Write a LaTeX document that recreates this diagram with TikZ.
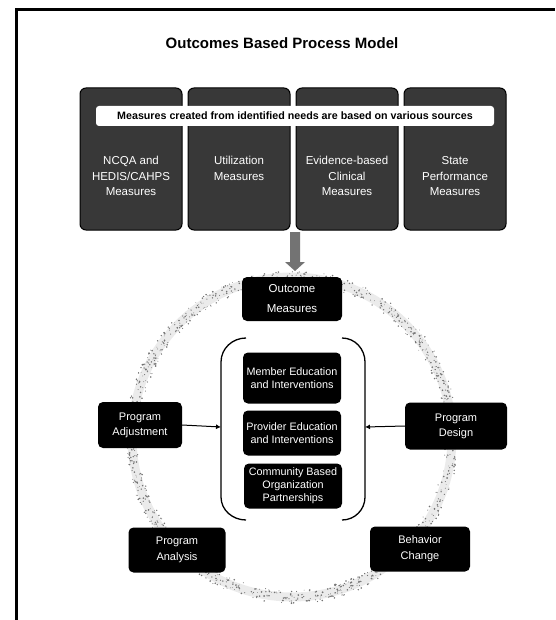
\documentclass[tikz,border=0pt]{standalone}
\usepackage{fontspec}
\setmainfont{Liberation Sans}
\usetikzlibrary{arrows.meta}
\begin{document}
\begin{tikzpicture}[x=1pt,y=-1pt,
  srcbox/.style={fill=black!78, draw=black, line width=1pt, rounded corners=6pt,
    minimum width=102pt, minimum height=142pt, inner sep=0pt},
  srctext/.style={text=white, font=\fontsize{11.5}{15.5}\selectfont, align=center, anchor=north},
  stagebox/.style={fill=black, rounded corners=5pt, inner sep=0pt, text=white, align=center,
    font=\fontsize{11}{15}\selectfont},
  innerbox/.style={fill=black, rounded corners=5pt, inner sep=0pt, text=white, align=center,
    minimum width=98pt, font=\fontsize{10.8}{12.8}\selectfont},
  speck/.style={fill=black!55},
  feed/.style={draw=black, line width=1pt, -{Latex[length=5pt,width=5pt]}},
  bracket/.style={draw=black, line width=1.3pt}
]
\useasboundingbox (0,0) rectangle (555,620);

% frame
\draw[line width=3pt] (16,620) -- (16,10) -- (555,10);

% title
\node[font=\bfseries\fontsize{15}{18}\selectfont, anchor=base] (title) at (282,49) {Outcomes Based Process Model};

% process cycle ring: a faint band strewn with grey specks
\draw[draw=black!8, line width=9pt] (292,437) circle[radius=160];
\pgfmathsetseed{4217}
\foreach \i in {1,...,1100}{
  \pgfmathsetmacro{\ang}{360*rnd}
  \pgfmathsetmacro{\rad}{160+13*(rnd-0.5)}
  \pgfmathsetmacro{\sz}{0.35+0.6*rnd}
  \fill[speck, shift={(292,437)}] (\ang:\rad) circle[radius=\sz];
}

% source measure boxes
\node[srcbox] (s1) at (131,159) {};
\node[srcbox] (s2) at (239,159) {};
\node[srcbox] (s3) at (347,159) {};
\node[srcbox] (s4) at (455,159) {};
\node[srctext] (t1) at (131,153) {NCQA and\\HEDIS/CAHPS\\Measures};
\node[srctext] (t2) at (239,153) {Utilization\\Measures};
\node[srctext] (t3) at (347,153) {Evidence-based\\Clinical\\Measures};
\node[srctext] (t4) at (455,153) {State\\Performance\\Measures};

% banner across the source boxes
\node[fill=white, rounded corners=3pt, minimum width=398pt, minimum height=20pt, inner sep=0pt,
  font=\bfseries\fontsize{10.7}{12}\selectfont] (banner) at (295,116)
  {Measures created from identified needs are based on various sources};

% block arrow into the outcome measures
\fill[black!55] (290,232) -- (300,232) -- (300,262) -- (305,262) -- (295,271) -- (285,262) -- (290,262) -- cycle;
\coordinate (arrtip) at (295,271);

% cycle stages
\node[stagebox, minimum width=100pt, minimum height=44pt, font=\fontsize{11.5}{20}\selectfont] (outcome) at (292,299) {Outcome\\Measures};
\node[stagebox, minimum width=84pt, minimum height=46pt] (adjust) at (140,425) {Program\\Adjustment};
\node[stagebox, minimum width=102pt, minimum height=47pt] (design) at (456,426) {Program\\Design};
\node[stagebox, minimum width=97pt, minimum height=45pt, font=\fontsize{11}{16}\selectfont] (analysis) at (177,550) {Program\\Analysis};
\node[stagebox, minimum width=100pt, minimum height=45pt, font=\fontsize{11}{16}\selectfont] (behavior) at (420,549) {Behavior\\Change};

% central group of interventions
\draw[bracket] (246,338) to[out=180,in=90] (221,362) -- (221,497) to[out=-90,in=180] (246,520);
\draw[bracket] (342,338) to[out=0,in=90] (365,362) -- (365,497) to[out=-90,in=0] (342,520);
\coordinate (grpL) at (221,427);
\coordinate (grpR) at (365,427);

\node[innerbox, minimum height=51pt] (member) at (292,378) {Member Education\\and Interventions};
\node[innerbox, minimum height=45pt] (provider) at (292,433) {Provider Education\\and Interventions};
\node[innerbox, minimum height=45pt] (community) at (293,486) {Community Based\\Organization\\Partnerships};

% feeds into the group
\draw[feed] (adjust.east) -- (grpL);
\draw[feed] (design.west) -- (grpR);
\end{tikzpicture}
\end{document}
